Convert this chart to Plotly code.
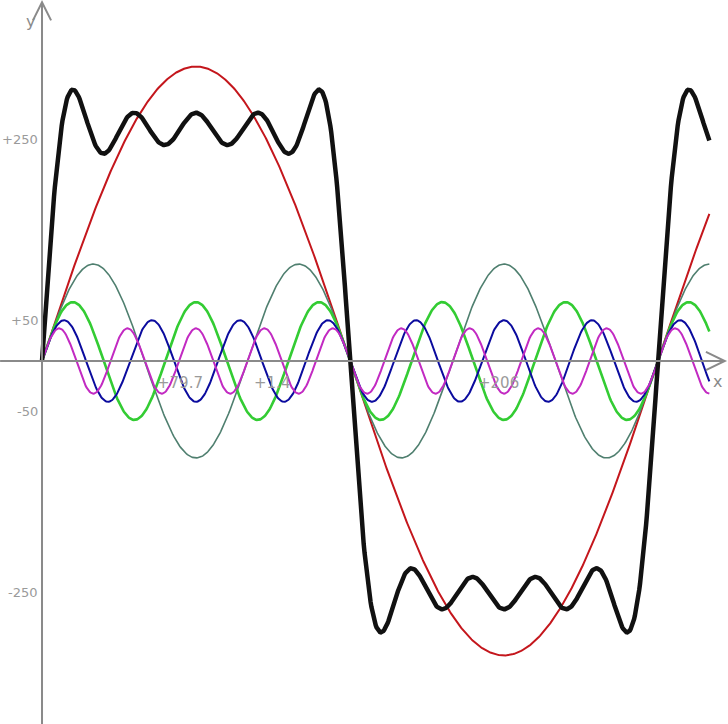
import numpy as np
import plotly.graph_objects as go

# Harmonic components (odd harmonics of a square wave), amplitudes
harmonics = [1, 3, 5, 7, 9]
amplitudes = [325, 107, 65, 45, 36]
colors = ["#c4161c", "#4f7f6f", "#33cc33", "#0b0b9e", "#c22ac2"]
widths = [2, 1.6, 2.6, 2, 2]

y_tick_vals = [250, 50, -50, -250]
y_tick_text = ["+250", "+50", "-50", "-250"]
x_tick_pos = [80.6, 134.5, 266.5]
x_tick_text = ["+79.7", "+1.4", "+206"]

x_deg = np.arange(0, 390.5, 0.5)
x_rad = np.deg2rad(x_deg)

fig = go.Figure()
total = np.zeros_like(x_rad)
for n, a, c, w in zip(harmonics, amplitudes, colors, widths):
    y = a * np.sin(n * x_rad)
    total += y
    fig.add_trace(go.Scatter(x=x_deg, y=y, mode="lines",
                             line=dict(color=c, width=w), hoverinfo="skip"))
fig.add_trace(go.Scatter(x=x_deg, y=total, mode="lines",
                         line=dict(color="#111111", width=4.5), hoverinfo="skip"))

axc = "#8a8a8a"
xr = [-24.55, 400.9]
yr = [-400.7, 398.5]
shapes = [
    dict(type="line", xref="x", yref="y", x0=-24.5, x1=399, y0=0, y1=0, line=dict(color=axc, width=2)),
    dict(type="line", xref="x", yref="y", x0=0, x1=0, y0=-401, y1=396, line=dict(color=axc, width=2)),
    # arrow chevrons
    dict(type="path", xref="x", yref="y",
         path="M -5.3,376 L 0,396 L 5.3,376", line=dict(color=axc, width=2)),
    dict(type="path", xref="x", yref="y",
         path="M 388,10 L 399,0 L 388,-10", line=dict(color=axc, width=2)),
]
fig.update_layout(shapes=shapes)

ann = []
for v, t in zip(y_tick_vals, y_tick_text):
    ann.append(dict(x=-2.0, y=v, text=t, showarrow=False, xanchor="right", yanchor="middle",
                    yshift=-5, borderpad=0,
                    font=dict(family="DejaVu Sans", size=13, color="#9a9a9a")))
for v, t in zip(x_tick_pos, x_tick_text):
    ann.append(dict(x=v, y=0, text=t, showarrow=False, xanchor="center", yanchor="middle",
                    yshift=-22, font=dict(family="DejaVu Sans", size=15, color="#9a9a9a")))
ann.append(dict(x=-7, y=375, text="y", showarrow=False, xanchor="center", yanchor="middle",
                font=dict(family="DejaVu Sans", size=16, color="#8a8a8a")))
ann.append(dict(x=394.5, y=-23, text="x", showarrow=False, xanchor="center", yanchor="middle",
                font=dict(family="DejaVu Sans", size=16, color="#8a8a8a")))
fig.update_layout(annotations=ann)

fig.update_layout(
    width=728, height=724, margin=dict(l=0, r=0, t=0, b=0),
    paper_bgcolor="white", plot_bgcolor="white", showlegend=False,
    xaxis=dict(range=xr, visible=False, fixedrange=True),
    yaxis=dict(range=yr, visible=False, fixedrange=True),
)
fig.write_html("out.html")
